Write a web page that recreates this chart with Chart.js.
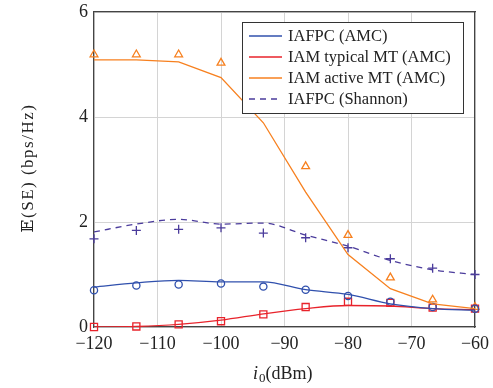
<!DOCTYPE html>
<html>
<head>
<meta charset="utf-8">
<script src="https://cdn.jsdelivr.net/npm/chart.js@4"></script>
<style>
  html, body { margin: 0; padding: 0; background: #fff; }
  #wrap { width: 493px; height: 388px; }
</style>
</head>
<body>
<div id="wrap"><canvas id="myChart"></canvas></div>
<script>
// x positions (dBm)
const xVals = [-120, -113.33, -106.67, -100, -93.33, -86.67, -80, -73.33, -66.67, -60];
const xTicks = [-120, -110, -100, -90, -80, -70, -60];
const yTicks = [0, 2, 4, 6];

// analytical curves
const iafpcAmc   = [0.76, 0.84, 0.89, 0.86, 0.86, 0.71, 0.62, 0.44, 0.35, 0.32];
const typicalAmc = [0.00, 0.01, 0.05, 0.13, 0.25, 0.35, 0.41, 0.40, 0.35, 0.33];
const activeAmc  = [5.09, 5.09, 5.05, 4.75, 3.89, 2.57, 1.38, 0.73, 0.44, 0.35];
const iafpcShan  = [1.81, 1.96, 2.05, 1.96, 1.98, 1.75, 1.54, 1.27, 1.09, 1.00];

// simulation markers
const iafpcAmcSim   = [0.70, 0.79, 0.81, 0.83, 0.77, 0.71, 0.59, 0.48, 0.38, 0.35];
const typicalAmcSim = [0.00, 0.01, 0.05, 0.11, 0.24, 0.38, 0.48, 0.46, 0.37, 0.35];
const activeAmcSim  = [5.19, 5.19, 5.19, 5.03, 4.40, 3.06, 1.75, 0.94, 0.52, 0.38];
const iafpcShanSim  = [1.68, 1.84, 1.86, 1.89, 1.79, 1.70, 1.51, 1.30, 1.12, 1.00];

const labels = ['IAFPC (AMC)', 'IAM typical MT (AMC)', 'IAM active MT (AMC)', 'IAFPC (Shannon)'];
const colors = ['#3050ad', '#e8232b', '#f7801f', '#4b3c9c'];

function pts(ys) {
    return ys.map(function (y, i) { return { x: xVals[i], y: y }; });
}

const serif = '"Liberation Serif", "DejaVu Serif", serif';

function lineSet(label, ys, color, dash, smooth) {
    return {
        label: label, data: pts(ys), borderColor: color, borderWidth: 1.3,
        borderDash: dash, pointRadius: 0, showLine: true, fill: false,
        tension: smooth ? 0.4 : 0, cubicInterpolationMode: smooth ? 'monotone' : 'default'
    };
}
function markSet(ys, color, style, r) {
    return {
        label: '', data: pts(ys), borderColor: color, backgroundColor: 'rgba(0,0,0,0)',
        pointStyle: style, pointRadius: r, pointBorderWidth: 1.3, showLine: false, clip: false
    };
}

// no automatic label padding, the plot box is placed by layout.padding
function noPad(s) {
    s.paddingTop = 0; s.paddingBottom = 0; s.paddingLeft = 0; s.paddingRight = 0;
}

// legend + axis titles drawn on the canvas
const extras = {
    id: 'extras',
    afterDraw(chart) {
        const ctx = chart.ctx;
        ctx.save();
        // legend
        const bx = 242, by = 22, bw = 221, bh = 91;
        ctx.fillStyle = '#fff';
        ctx.fillRect(bx, by, bw, bh);
        ctx.strokeStyle = '#333';
        ctx.lineWidth = 1;
        ctx.strokeRect(bx + 0.5, by + 0.5, bw, bh);
        const rows = [36, 57, 78, 99];
        ctx.font = '16.5px ' + serif;
        ctx.textBaseline = 'middle';
        for (let i = 0; i < labels.length; i++) {
            ctx.strokeStyle = colors[i];
            ctx.lineWidth = 1.5;
            ctx.setLineDash(i === 3 ? [6, 5] : []);
            ctx.beginPath();
            ctx.moveTo(249, rows[i]);
            ctx.lineTo(282, rows[i]);
            ctx.stroke();
            ctx.setLineDash([]);
            ctx.fillStyle = '#222';
            ctx.fillText(labels[i], 288, rows[i] + 1);
        }
        // x title
        ctx.fillStyle = '#222';
        ctx.textBaseline = 'alphabetic';
        ctx.font = 'italic 18px ' + serif;
        let x = 253;
        ctx.fillText('i', x, 379);
        x += ctx.measureText('i').width + 1;
        ctx.font = '13px ' + serif;
        ctx.fillText('0', x, 382);
        x += ctx.measureText('0').width;
        ctx.font = '18px ' + serif;
        ctx.fillText('(dBm)', x, 379);
        // y title
        ctx.translate(33, 168);
        ctx.rotate(-Math.PI / 2);
        ctx.textAlign = 'center';
        ctx.font = '17px ' + serif;
        ctx.letterSpacing = '1.5px';
        ctx.fillText('\u{1D53C}(SE) (bps/Hz)', 0, 0);
        ctx.restore();
    }
};

new Chart(document.getElementById('myChart'), {
    type: 'scatter',
    data: {
        datasets: [
            lineSet(labels[0], iafpcAmc, colors[0], [], true),
            lineSet(labels[1], typicalAmc, colors[1], [], true),
            lineSet(labels[2], activeAmc, colors[2], [], false),
            lineSet(labels[3], iafpcShan, colors[3], [6, 5], true),
            markSet(iafpcAmcSim, colors[0], 'circle', 3.6),
            markSet(typicalAmcSim, colors[1], 'rect', 5),
            markSet(activeAmcSim, colors[2], 'triangle', 4.5),
            markSet(iafpcShanSim, colors[3], 'cross', 4.5)
        ]
    },
    options: {
        responsive: true,
        maintainAspectRatio: false,
        animation: false,
        layout: { autoPadding: false, padding: { top: 12, right: 18, left: 0, bottom: 0 } },
        plugins: { legend: { display: false }, tooltip: { enabled: false } },
        scales: {
            x: {
                type: 'linear', min: -120, max: -60,
                afterBuildTicks: function (s) { s.ticks = xTicks.map(function (v) { return { value: v }; }); },
                afterFit: function (s) { s.height = 61; noPad(s); },
                grid: { color: '#d4d4d4', lineWidth: 1, tickLength: 0, drawTicks: false },
                border: { display: true, color: '#444', width: 1.2 },
                ticks: {
                    color: '#222', padding: 6, font: { family: serif, size: 18 },
                    callback: function (v) { return String(v).replace('-', '\u2212'); }
                }
            },
            y: {
                min: 0, max: 6,
                afterBuildTicks: function (s) { s.ticks = yTicks.map(function (v) { return { value: v }; }); },
                afterFit: function (s) { s.width = 94; noPad(s); },
                grid: { color: '#d4d4d4', lineWidth: 1, drawTicks: false },
                border: { display: true, color: '#444', width: 1.2 },
                ticks: { color: '#222', padding: 6, font: { family: serif, size: 18 } }
            },
            x2: {
                type: 'linear', position: 'top', min: -120, max: -60,
                grid: { display: false }, ticks: { display: false },
                border: { display: true, color: '#444', width: 1.2 },
                afterFit: function (s) { s.height = 0; noPad(s); }
            },
            y2: {
                position: 'right', min: 0, max: 6,
                grid: { display: false }, ticks: { display: false },
                border: { display: true, color: '#444', width: 1.2 },
                afterFit: function (s) { s.width = 0; noPad(s); }
            }
        }
    },
    plugins: [extras]
});
</script>
</body>
</html>
